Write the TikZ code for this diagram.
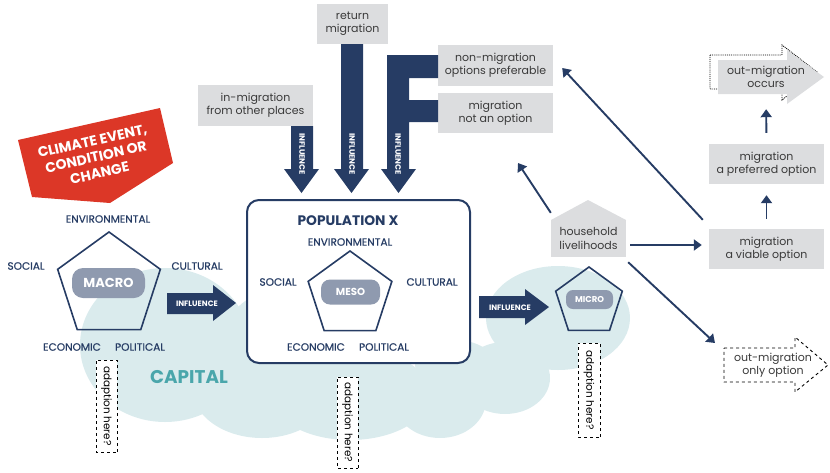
\documentclass[tikz,border=0pt]{standalone}
\usepackage{fontspec}
\setmainfont{Poppins}
\newfontfamily\medfont{Poppins}[FakeBold = 0.6]
\usetikzlibrary{arrows.meta}
\usetikzlibrary{shapes}

\definecolor{navy}{HTML}{263C64}
\definecolor{pillgray}{HTML}{8F9AAF}
\definecolor{boxgray}{HTML}{DCDDDF}
\definecolor{cloudblue}{HTML}{DAEBED}
\definecolor{capteal}{HTML}{4AA6AB}
\definecolor{alertred}{HTML}{DC3727}
\definecolor{boxtext}{HTML}{3A3A3A}

\begin{document}
\begin{tikzpicture}[x = 1pt, y = -1pt]
\tikzstyle{CloudStyle} = [fill = cloudblue]
\tikzstyle{BoxStyle} = [fill = boxgray, text = boxtext, align = center, inner sep = 0pt, font = \fontsize{11}{13.4}\selectfont]
\tikzstyle{CapStyle} = [text = navy, inner sep = 0pt, font = \medfont\fontsize{10.6}{12}\selectfont]
\tikzstyle{LevelStyle} = [regular polygon, regular polygon sides = 5, draw = navy, line width = 1.6pt, inner sep = 0pt]
\tikzstyle{TagStyle} = [fill = pillgray, text = white, rounded corners, inner sep = 0pt, font = \bfseries]
\tikzstyle{InfStyle} = [text = white, inner sep = 0pt, font = \fontsize{7.8}{9}\selectfont\bfseries]
\tikzstyle{AdaptStyle} = [draw, dashed, fill = white, rotate = -90, inner sep = 0pt, line width = 0.8pt, font = \fontsize{10.4}{12}\selectfont]
\tikzstyle{ConnStyle} = [draw = navy, line width = 1.9pt, -{Triangle[length = 8pt, width = 11pt]}]
\useasboundingbox (0,0) rectangle (830,472);

% capital cloud
\fill[CloudStyle] (165,345) ellipse [x radius = 85pt, y radius = 77pt];
\fill[CloudStyle] (290,330) ellipse [x radius = 62pt, y radius = 42pt];
\fill[CloudStyle] (262,388) ellipse [x radius = 70pt, y radius = 50pt];
\fill[CloudStyle] (350,394) ellipse [x radius = 80pt, y radius = 46pt];
\fill[CloudStyle] (440,400) ellipse [x radius = 46pt, y radius = 38pt];
\fill[CloudStyle] (505,378) ellipse [x radius = 45pt, y radius = 36pt];
\fill[CloudStyle] (558,318) ellipse [x radius = 72pt, y radius = 52pt];
\fill[CloudStyle] (455,365) ellipse [x radius = 40pt, y radius = 25pt];
\node[text = capteal, font = \fontsize{18.4}{20}\selectfont\bfseries] (capital) at (189,377) {CAPITAL};

% climate banner
\fill[alertred] (18,140) -- (160,108) -- (173,163) -- (110,203) -- (32,197) -- cycle;
\node[text = white, rotate = 12.7, align = center, font = \fontsize{14}{16.5}\selectfont\bfseries] (climate) at (96,157) {CLIMATE EVENT,\\CONDITION OR\\CHANGE};

% macro level
\node[LevelStyle, minimum size = 108pt] (macro) at (109,286) {};
\node[TagStyle, minimum width = 73pt, minimum height = 30pt, rounded corners = 11pt, font = \fontsize{13}{15}\selectfont\bfseries] (macrotag) at (108.5,283) {MACRO};
\node[CapStyle] (macroenv) at (108,219) {ENVIRONMENTAL};
\node[CapStyle] (macrosoc) at (26,266) {SOCIAL};
\node[CapStyle] (macrocul) at (197,266) {CULTURAL};
\node[CapStyle] (macroeco) at (72,347) {ECONOMIC};
\node[CapStyle] (macropol) at (140,347) {POLITICAL};

% population box
\node[draw = navy, line width = 2pt, fill = white, rounded corners = 12pt, minimum width = 223pt, minimum height = 163pt] (population) at (358.5,281.5) {};
\node[text = navy, font = \fontsize{13.8}{15}\selectfont\bfseries] (poptitle) at (348,221) {POPULATION X};
\node[LevelStyle, minimum size = 88pt] (meso) at (350,295) {};
\node[TagStyle, minimum width = 59pt, minimum height = 25pt, rounded corners = 9pt, font = \fontsize{10.2}{12}\selectfont\bfseries] (mesotag) at (350.5,292) {MESO};
\node[CapStyle] (mesoenv) at (350,242) {ENVIRONMENTAL};
\node[CapStyle] (mesosoc) at (278,282) {SOCIAL};
\node[CapStyle] (mesocul) at (432,282) {CULTURAL};
\node[CapStyle] (mesoeco) at (316,347) {ECONOMIC};
\node[CapStyle] (mesopol) at (384,347) {POLITICAL};

% micro level
\node[LevelStyle, minimum size = 70pt] (micro) at (589,302) {};
\node[TagStyle, minimum width = 47pt, minimum height = 19pt, rounded corners = 7pt, font = \fontsize{8.5}{10}\selectfont\bfseries] (microtag) at (589.5,299.5) {MICRO};

% influence arrows
\fill[navy] (167,293) -- (213,293) -- (213,285) -- (236,303) -- (213,321) -- (213,314) -- (167,314) -- cycle;
\node[InfStyle] (infmacro) at (197,303.5) {INFLUENCE};
\fill[navy] (479,296) -- (525,296) -- (525,289) -- (549,307) -- (525,325) -- (525,318) -- (479,318) -- cycle;
\node[InfStyle] (infmeso) at (510,307.5) {INFLUENCE};

% inflows from above
\node[BoxStyle, minimum width = 71pt, minimum height = 40pt] (returnmig) at (352.5,24) {return\\migration};
\node[BoxStyle, minimum width = 115pt, minimum height = 41pt] (inmig) at (255.5,105.5) {in-migration\\from other places};
\node[BoxStyle, minimum width = 115pt, minimum height = 41pt] (nonmig) at (495.5,65.5) {non-migration\\options preferable};
\node[BoxStyle, minimum width = 115pt, minimum height = 40pt] (notoption) at (495.5,113) {migration\\not an option};
\fill[navy] (291,126) -- (291,169) -- (284,169) -- (301.5,193) -- (319,169) -- (313,169) -- (313,126) -- cycle;
\fill[navy] (341,44) -- (341,169) -- (334,169) -- (351.5,193) -- (369,169) -- (363,169) -- (363,44) -- cycle;
\fill[navy] (387,55) -- (387,169) -- (381,169) -- (398.5,193) -- (416,169) -- (409,169) -- (409,122) -- (438,122)
  -- (438,100) -- (409,100) -- (409,78) -- (438,78) -- (438,55) -- cycle;
\node[InfStyle, rotate = -90] (infin) at (302,154) {INFLUENCE};
\node[InfStyle, rotate = -90] (infret) at (352,154) {INFLUENCE};
\node[InfStyle, rotate = -90] (infif) at (398,154) {INFLUENCE};

% household livelihoods
\fill[boxgray] (551,220) -- (588,200) -- (626,220) -- cycle;
\node[BoxStyle, minimum width = 75pt, minimum height = 37pt] (household) at (588.5,238.5) {household\\livelihoods};

% migration outcomes
\node[BoxStyle, minimum width = 115pt, minimum height = 40pt] (preferred) at (766.5,164) {migration\\a preferred option};
\node[BoxStyle, minimum width = 115pt, minimum height = 40pt] (viable) at (766.5,249) {migration\\a viable option};
\draw[densely dotted, line width = 0.9pt] (710,55) -- (782,55) -- (782,45) -- (817,72) -- (782,100) -- (782,89) -- (710,89) -- cycle;
\fill[boxgray] (718,60) -- (787,60) -- (787,50) -- (824,77) -- (787,104) -- (787,94) -- (718,94) -- cycle;
\node[BoxStyle, fill = none, minimum height = 34pt] (occurs) at (766,77) {out-migration\\occurs};
\draw[dashed, line width = 0.9pt] (724,348) -- (795,348) -- (795,337) -- (828,365) -- (795,392) -- (795,382) -- (724,382) -- cycle;
\node[BoxStyle, fill = none, minimum height = 34pt] (onlyoption) at (773,365) {out-migration\\only option};
\coordinate (notoptiontip) at (518,163);
\coordinate (onlyoptiontip) at (715,343);

% adaption notes
\node[AdaptStyle, minimum width = 92pt, minimum height = 21pt] (adaptmacro) at (106.5,406) {adaption here?};
\node[AdaptStyle, minimum width = 91pt, minimum height = 21pt] (adaptmeso) at (347.5,422.5) {adaption here?};
\node[AdaptStyle, minimum width = 94pt, minimum height = 22pt] (adaptmicro) at (589,390) {adaption here?};

% connectors
\draw[ConnStyle] ([yshift = 7pt]household.north west) -- (notoptiontip);
\draw[ConnStyle] ([xshift = 4pt, yshift = -6.5pt]household.east) -- ([xshift = -7pt, yshift = 4pt]viable.west);
\draw[ConnStyle] ([xshift = 2pt, yshift = -5pt]household.south east) -- (onlyoptiontip);
\draw[ConnStyle] ([xshift = -6pt, yshift = 9pt]viable.north west) -- ([xshift = 9pt, yshift = -2.5pt]nonmig.east);
\draw[ConnStyle, shorten <= 10pt, shorten >= 11pt] (viable.north) -- (preferred.south);
\draw[ConnStyle, shorten <= 11pt, shorten >= 15pt] (preferred.north) -- (occurs.south);
\end{tikzpicture}
\end{document}
